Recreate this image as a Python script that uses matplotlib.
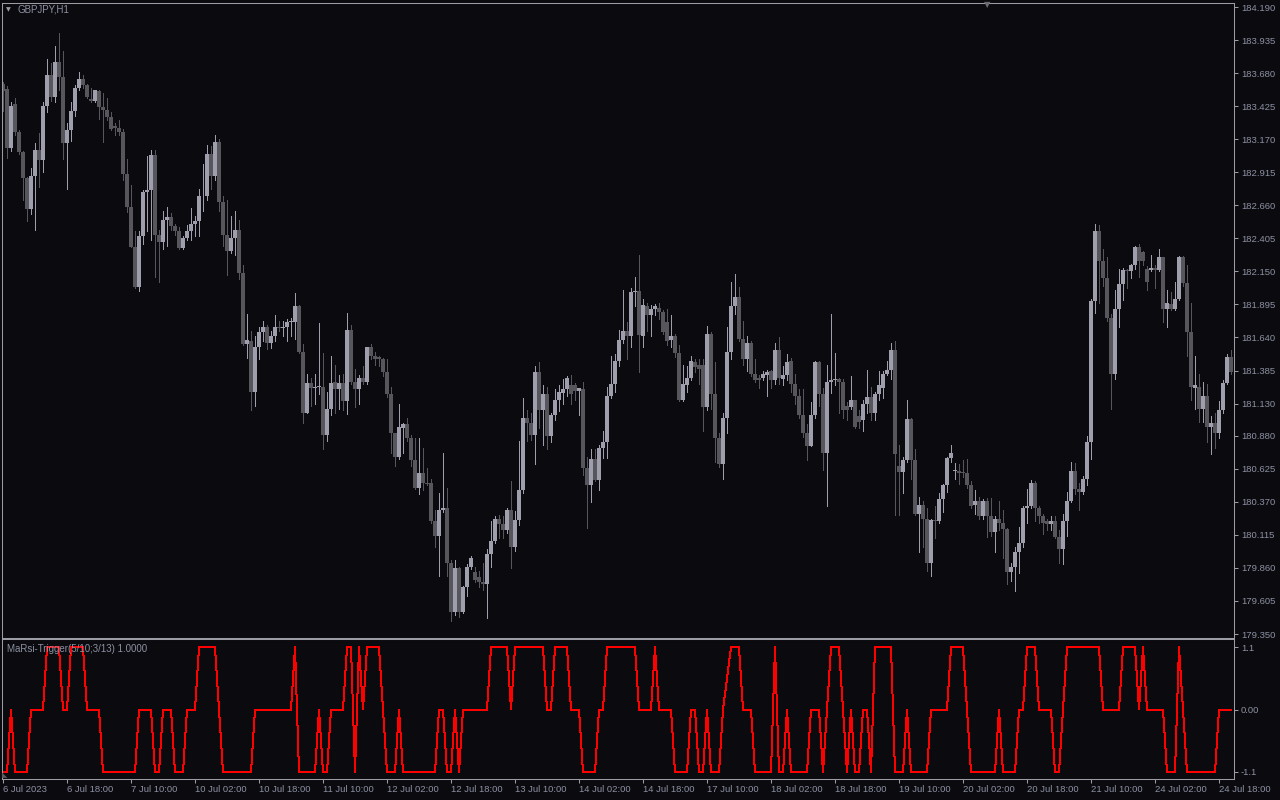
import numpy as np
import matplotlib
matplotlib.use("Agg")
import matplotlib.pyplot as plt

# GBPJPY H1 candles, bar 0 = 6 Jul 2023 02:00
opens = [
    183.60, 183.56, 183.10, 183.44, 183.23, 183.07, 182.87, 182.63, 182.89, 183.09,
    183.01, 183.43, 183.67, 183.50, 183.77, 183.65, 183.14, 183.24, 183.39, 183.57,
    183.64, 183.59, 183.48, 183.47, 183.54, 183.42, 183.40, 183.34, 183.27, 183.26,
    183.23, 182.90, 182.65, 182.34, 182.03, 182.42, 182.76, 182.78, 183.05, 182.43,
    182.38, 182.55, 182.57, 182.50, 182.46, 182.33, 182.41, 182.46, 182.52, 182.54,
    182.73, 182.73, 183.06, 182.89, 183.15, 182.69, 182.43, 182.31, 182.41, 182.47,
    182.14, 181.59, 181.61, 181.22, 181.57, 181.68, 181.72, 181.60, 181.65, 181.72,
    181.71, 181.72, 181.76, 181.76, 181.88, 181.53, 181.06, 181.29, 181.25, 181.26,
    181.26, 180.89, 181.09, 181.30, 181.24, 181.29, 181.15, 181.70, 181.30, 181.24,
    181.33, 181.30, 181.57, 181.50, 181.49, 181.47, 181.37, 181.20, 180.90, 180.72,
    180.94, 180.97, 180.86, 180.69, 180.48, 180.59, 180.52, 180.52, 180.22, 180.11,
    180.31, 180.32, 179.90, 179.52, 179.86, 179.52, 179.71, 179.87, 179.83, 179.79,
    179.75, 179.74, 179.97, 180.07, 180.24, 180.20, 180.15, 180.31, 180.02, 180.23,
    180.46, 181.02, 180.98, 180.89, 181.37, 181.08, 181.20, 180.88, 181.04, 181.16,
    181.21, 181.24, 181.27, 181.27, 181.23, 181.24, 180.63, 180.50, 180.70, 180.54,
    180.79, 180.83, 181.19, 181.28, 181.46, 181.62, 181.69, 181.65, 181.99, 182.00,
    181.65, 181.88, 181.81, 181.86, 181.87, 181.84, 181.76, 181.62, 181.65, 181.52,
    181.16, 181.27, 181.33, 181.45, 181.43, 181.43, 181.10, 181.67, 181.20, 180.86,
    180.66, 181.02, 181.53, 181.88, 181.95, 181.63, 181.47, 181.60, 181.36, 181.33,
    181.33, 181.35, 181.38, 181.31, 181.54, 181.32, 181.35, 181.46, 181.28, 181.19,
    181.04, 180.90, 180.80, 181.04, 181.45, 181.20, 180.75, 181.30, 181.31, 181.32,
    181.30, 181.11, 181.10, 181.16, 181.03, 181.00, 181.13, 181.18, 181.06, 181.20,
    181.25, 181.36, 181.39, 181.54, 180.65, 180.60, 180.69, 181.01, 180.69, 180.28,
    180.35, 180.24, 179.90, 180.23, 180.22, 180.39, 180.50, 180.71, 180.61, 180.61,
    180.60, 180.59, 180.50, 180.35, 180.38, 180.26, 180.38, 180.26, 180.14, 180.24,
    180.21, 180.16, 179.83, 179.87, 179.98, 180.05, 180.32, 180.34, 180.52, 180.32,
    180.26, 180.22, 180.20, 180.22, 180.10, 180.01, 180.22, 180.38, 180.61, 180.47,
    180.45, 180.55, 180.83, 181.92, 182.46, 182.23, 182.10, 181.79, 181.36, 181.86,
    182.05, 182.16, 182.15, 182.20, 182.34, 182.30, 182.17, 182.16, 182.18, 182.16,
    182.26, 181.86, 181.90, 181.86, 181.94, 182.26, 182.06, 181.68, 181.25, 181.26,
    181.09, 181.19, 180.95, 180.98, 180.90, 181.08, 181.29, 181.49,
]
highs = [
    183.61, 183.58, 183.46, 183.49, 183.24, 183.08, 182.88, 182.95, 183.14, 183.22,
    183.46, 183.79, 183.76, 183.89, 183.99, 183.85, 183.30, 183.46, 183.59, 183.69,
    183.67, 183.60, 183.57, 183.55, 183.55, 183.53, 183.49, 183.38, 183.30, 183.32,
    183.25, 183.02, 182.82, 182.46, 182.46, 182.78, 183.04, 183.09, 183.09, 182.47,
    182.62, 182.65, 182.60, 182.52, 182.49, 182.42, 182.51, 182.64, 182.58, 182.79,
    182.98, 183.13, 183.12, 183.20, 183.17, 182.73, 182.70, 182.58, 182.62, 182.55,
    182.20, 181.82, 181.69, 181.65, 181.72, 181.77, 181.74, 181.69, 181.81, 181.77,
    181.77, 181.78, 181.79, 181.98, 181.89, 181.59, 181.36, 181.33, 181.36, 181.75,
    181.52, 181.22, 181.50, 181.43, 181.35, 181.36, 181.83, 181.74, 181.40, 181.35,
    181.42, 181.57, 181.59, 181.53, 181.50, 181.48, 181.47, 181.26, 180.90, 181.13,
    180.98, 181.02, 180.89, 180.86, 180.86, 180.79, 180.63, 180.55, 180.31, 180.44,
    180.75, 180.48, 179.92, 179.92, 179.87, 179.72, 179.89, 179.95, 179.87, 179.84,
    179.90, 180.01, 180.22, 180.26, 180.27, 180.26, 180.32, 180.53, 180.30, 180.84,
    181.17, 181.08, 181.06, 181.42, 181.45, 181.27, 181.26, 181.06, 181.24, 181.27,
    181.32, 181.34, 181.35, 181.29, 181.25, 181.30, 180.72, 180.78, 180.78, 180.81,
    180.92, 181.26, 181.50, 181.51, 181.70, 182.01, 181.76, 182.02, 182.11, 182.28,
    181.94, 181.91, 181.89, 181.90, 181.91, 181.85, 181.86, 181.81, 181.67, 181.58,
    181.43, 181.42, 181.50, 181.47, 181.47, 181.47, 181.73, 181.68, 181.45, 180.90,
    181.06, 181.72, 182.07, 182.13, 182.03, 181.77, 181.65, 181.61, 181.47, 181.35,
    181.38, 181.39, 181.39, 181.60, 181.64, 181.42, 181.51, 181.48, 181.36, 181.24,
    181.24, 180.97, 181.14, 181.46, 181.46, 181.25, 181.43, 181.82, 181.52, 181.33,
    181.32, 181.14, 181.34, 181.16, 181.08, 181.16, 181.39, 181.26, 181.22, 181.38,
    181.38, 181.46, 181.60, 181.61, 180.81, 180.72, 181.16, 181.02, 180.78, 180.41,
    180.38, 180.32, 180.24, 180.34, 180.44, 180.51, 180.72, 180.81, 180.67, 180.66,
    180.69, 180.70, 180.53, 180.46, 180.41, 180.39, 180.40, 180.40, 180.26, 180.38,
    180.31, 180.17, 179.90, 180.02, 180.18, 180.34, 180.47, 180.54, 180.53, 180.34,
    180.28, 180.24, 180.26, 180.26, 180.15, 180.28, 180.45, 180.68, 180.67, 180.52,
    180.57, 180.88, 181.94, 182.52, 182.51, 182.32, 182.26, 181.82, 182.01, 182.17,
    182.18, 182.17, 182.21, 182.35, 182.36, 182.31, 182.19, 182.28, 182.20, 182.32,
    182.26, 182.01, 181.99, 182.07, 182.27, 182.27, 182.20, 181.91, 181.50, 181.36,
    181.30, 181.28, 181.03, 181.06, 181.15, 181.31, 181.51, 181.54,
]
lows = [
    183.39, 183.03, 183.08, 183.20, 183.06, 182.70, 182.54, 182.59, 182.47, 182.80,
    182.92, 183.38, 183.47, 183.46, 183.55, 183.02, 182.79, 183.16, 183.35, 183.55,
    183.57, 183.49, 183.46, 183.46, 183.33, 183.15, 183.32, 183.24, 183.20, 183.20,
    182.86, 182.61, 182.34, 182.02, 182.00, 182.36, 182.46, 182.39, 182.11, 182.07,
    182.32, 182.35, 182.47, 182.43, 182.32, 182.32, 182.39, 182.39, 182.42, 182.42,
    182.62, 182.70, 182.79, 182.86, 182.62, 182.35, 182.12, 182.29, 182.28, 182.09,
    181.58, 181.48, 181.08, 181.11, 181.47, 181.61, 181.55, 181.56, 181.61, 181.69,
    181.65, 181.61, 181.65, 181.63, 181.52, 180.98, 181.06, 181.11, 181.13, 181.20,
    180.78, 180.84, 181.04, 181.06, 181.09, 181.08, 181.05, 181.28, 181.10, 181.13,
    181.28, 181.28, 181.47, 181.43, 181.42, 181.34, 181.18, 180.75, 180.65, 180.70,
    180.75, 180.84, 180.65, 180.47, 180.43, 180.46, 180.50, 180.21, 180.02, 179.80,
    180.29, 179.80, 179.45, 179.50, 179.48, 179.51, 179.64, 179.85, 179.75, 179.71,
    179.69, 179.47, 179.87, 180.05, 180.09, 180.09, 180.13, 179.86, 179.99, 180.19,
    180.44, 180.84, 180.85, 180.66, 180.94, 180.81, 180.78, 180.83, 181.00, 181.07,
    181.13, 181.19, 181.13, 181.16, 181.04, 180.58, 180.17, 180.37, 180.53, 180.46,
    180.71, 180.71, 181.17, 181.22, 181.42, 181.60, 181.47, 181.57, 181.88, 181.37,
    181.57, 181.69, 181.65, 181.81, 181.78, 181.67, 181.58, 181.57, 181.49, 181.15,
    181.15, 181.22, 181.31, 181.37, 181.28, 180.92, 181.08, 181.09, 180.68, 180.64,
    180.55, 180.90, 181.47, 181.82, 181.61, 181.43, 181.38, 181.34, 181.30, 181.25,
    181.31, 181.19, 181.25, 181.28, 181.28, 181.27, 181.31, 181.22, 181.13, 181.02,
    180.87, 180.69, 180.80, 181.02, 181.11, 180.62, 180.34, 181.21, 181.27, 181.06,
    181.02, 181.00, 181.09, 180.94, 180.94, 180.92, 181.06, 181.00, 181.00, 181.16,
    181.17, 181.35, 181.32, 180.27, 180.27, 180.44, 180.68, 180.55, 180.27, 179.98,
    180.02, 179.84, 179.80, 180.09, 180.21, 180.29, 180.45, 180.68, 180.55, 180.51,
    180.56, 180.48, 180.32, 180.28, 180.24, 180.24, 180.10, 180.11, 179.98, 180.15,
    179.94, 179.74, 179.76, 179.68, 179.82, 180.02, 180.21, 180.32, 180.22, 180.21,
    180.12, 180.15, 180.15, 180.09, 179.90, 179.89, 180.11, 180.37, 180.43, 180.31,
    180.43, 180.50, 180.70, 181.83, 181.91, 182.04, 181.77, 181.09, 181.32, 181.72,
    181.93, 182.02, 182.10, 182.17, 182.11, 182.20, 182.01, 182.15, 182.02, 182.15,
    181.76, 181.72, 181.85, 181.85, 181.93, 182.04, 181.50, 181.16, 181.09, 180.99,
    180.99, 180.83, 180.74, 180.79, 180.86, 181.06, 181.28, 181.36,
]
closes = [
    183.54, 183.10, 183.43, 183.23, 183.07, 182.87, 182.63, 182.89, 183.09, 183.01,
    183.43, 183.67, 183.50, 183.77, 183.65, 183.14, 183.24, 183.39, 183.57, 183.64,
    183.59, 183.50, 183.47, 183.55, 183.42, 183.40, 183.34, 183.25, 183.26, 183.23,
    182.90, 182.65, 182.34, 182.03, 182.42, 182.76, 182.78, 183.05, 182.43, 182.38,
    182.55, 182.57, 182.50, 182.46, 182.33, 182.41, 182.46, 182.52, 182.54, 182.73,
    182.73, 183.06, 182.89, 183.15, 182.69, 182.43, 182.31, 182.41, 182.47, 182.14,
    181.59, 181.62, 181.22, 181.57, 181.68, 181.72, 181.60, 181.65, 181.72, 181.71,
    181.72, 181.76, 181.76, 181.88, 181.53, 181.06, 181.29, 181.25, 181.26, 181.26,
    180.89, 181.09, 181.29, 181.24, 181.29, 181.15, 181.70, 181.30, 181.24, 181.33,
    181.30, 181.57, 181.50, 181.47, 181.47, 181.37, 181.20, 180.90, 180.72, 180.95,
    180.97, 180.86, 180.69, 180.48, 180.59, 180.52, 180.51, 180.22, 180.11, 180.31,
    180.32, 179.90, 179.52, 179.86, 179.52, 179.71, 179.87, 179.94, 179.77, 179.75,
    179.74, 179.97, 180.07, 180.24, 180.20, 180.15, 180.31, 180.02, 180.23, 180.46,
    181.02, 180.98, 180.89, 181.37, 181.08, 181.20, 180.88, 181.04, 181.16, 181.22,
    181.24, 181.33, 181.20, 181.23, 181.25, 180.63, 180.50, 180.70, 180.54, 180.79,
    180.83, 181.19, 181.28, 181.46, 181.62, 181.69, 181.65, 181.99, 182.00, 181.66,
    181.89, 181.81, 181.86, 181.88, 181.84, 181.68, 181.61, 181.65, 181.52, 181.16,
    181.28, 181.33, 181.46, 181.41, 181.40, 181.10, 181.67, 181.20, 180.86, 180.66,
    181.02, 181.53, 181.88, 181.95, 181.63, 181.47, 181.60, 181.36, 181.31, 181.31,
    181.36, 181.37, 181.31, 181.54, 181.33, 181.35, 181.45, 181.28, 181.19, 181.04,
    180.90, 180.80, 181.04, 181.45, 181.20, 180.75, 181.30, 181.31, 181.31, 181.30,
    181.08, 181.08, 181.16, 180.95, 180.99, 181.13, 181.18, 181.06, 181.20, 181.27,
    181.36, 181.39, 181.54, 180.74, 180.60, 180.69, 181.01, 180.69, 180.28, 180.35,
    180.24, 179.90, 180.23, 180.22, 180.39, 180.50, 180.71, 180.75, 180.61, 180.59,
    180.59, 180.50, 180.34, 180.38, 180.26, 180.38, 180.26, 180.14, 180.24, 180.21,
    180.16, 179.83, 179.87, 179.98, 180.05, 180.32, 180.34, 180.52, 180.32, 180.26,
    180.21, 180.20, 180.22, 180.10, 180.01, 180.22, 180.38, 180.61, 180.47, 180.45,
    180.55, 180.83, 181.92, 182.46, 182.23, 182.10, 181.79, 181.36, 181.86, 182.05,
    182.16, 182.15, 182.20, 182.34, 182.23, 182.23, 182.07, 182.18, 182.16, 182.26,
    181.86, 181.91, 181.86, 181.94, 182.26, 182.06, 181.68, 181.26, 181.27, 181.09,
    181.19, 180.95, 180.98, 180.90, 181.08, 181.29, 181.49, 181.37,
]

# MaRsi-Trigger state per bar
trigger = [
    -1, -1, 0, -1, -1, -1, -1, 0, 0, 0,
    0, 1, 1, 1, 1, 0, 0, 1, 1, 1,
    1, 0, 0, 0, 0, -1, -1, -1, -1, -1,
    -1, -1, -1, -1, 0, 0, 0, 0, -1, -1,
    0, 0, 0, -1, -1, -1, 0, 0, 0, 1,
    1, 1, 1, 1, 0, -1, -1, -1, -1, -1,
    -1, -1, -1, 0, 0, 0, 0, 0, 0, 0,
    0, 0, 0, 1, -1, -1, -1, -1, -1, 0,
    -1, -1, 0, 0, 0, 0, 1, 1, -1, 1,
    0, 1, 1, 1, 1, 0, -1, -1, -1, 0,
    -1, -1, -1, -1, -1, -1, -1, -1, -1, 0,
    0, -1, -1, 0, -1, 0, 0, 0, 0, 0,
    0, 0, 1, 1, 1, 1, 1, 0, 1, 1,
    1, 1, 1, 1, 1, 1, 0, 0, 1, 1,
    1, 1, 0, 0, 0, -1, -1, -1, -1, 0,
    0, 1, 1, 1, 1, 1, 1, 1, 1, 0,
    0, 0, 0, 1, 0, 0, 0, 0, -1, -1,
    -1, -1, 0, 0, -1, -1, 0, -1, -1, -1,
    0, 0.5, 1, 1, 1, 0, 0, 0, -1, -1,
    -1, -1, -1, 1, -1, -1, 0, -1, -1, -1,
    -1, -1, 0, 0, 0, -1, 0, 1, 1, 1,
    0, -1, 0, -1, -1, 0, 0, -1, 1, 1,
    1, 1, 1, -1, -1, -1, 0, -1, -1, -1,
    -1, -1, 0, 0, 0, 0, 0, 1, 1, 1,
    1, 0, -1, -1, -1, -1, -1, -1, -1, 0,
    -1, -1, -1, -1, 0, 0, 1, 1, 1, 0,
    0, 0, 0, -1, -1, 0, 1, 1, 1, 1,
    1, 1, 1, 1, 1, 0, 0, 0, 0, 0,
    1, 1, 1, 1, 0, 1, 0, 0, 0, 0,
    0, -1, -1, -1, 1, 0, -1, -1, -1, -1,
    -1, -1, -1, -1, 0, 0, 0, 0,
]
trigger_level = 1.1

price_ticks = [184.190, 183.935, 183.680, 183.425, 183.170, 182.915, 182.660,
               182.405, 182.150, 181.895, 181.640, 181.385, 181.130, 180.880,
               180.625, 180.370, 180.115, 179.860, 179.605, 179.350]
time_labels = ["6 Jul 2023", "6 Jul 18:00", "7 Jul 10:00", "10 Jul 02:00",
               "10 Jul 18:00", "11 Jul 10:00", "12 Jul 02:00", "12 Jul 18:00",
               "13 Jul 10:00", "14 Jul 02:00", "14 Jul 18:00", "17 Jul 10:00",
               "18 Jul 02:00", "18 Jul 18:00", "19 Jul 10:00", "20 Jul 02:00",
               "20 Jul 18:00", "21 Jul 10:00", "24 Jul 02:00", "24 Jul 18:00"]
time_step = 16  # bars between time labels

BG = "#0b0b0f"
FRAME = "#9c9ca4"
TXT = "#8c90a2"
BULL = "#9e9eac"
BEAR = "#56565c"

plt.rcParams["font.family"] = ["Liberation Sans", "DejaVu Sans"]

W, H = 1280, 800
fig = plt.figure(figsize=(W / 100, H / 100), dpi=100, facecolor=BG)


def px_rect(x0, y0, x1, y1):
    return [x0 / W, 1 - y1 / H, (x1 - x0) / W, (y1 - y0) / H]


ax = fig.add_axes(px_rect(2, 2.5, 1234, 637.5))
ax2 = fig.add_axes(px_rect(2, 639, 1234, 778.5), sharex=ax)

o = np.array(opens)
h = np.array(highs)
l = np.array(lows)
c = np.array(closes)
idx = np.arange(len(o))
up = c >= o
cols = np.where(up, BULL, BEAR)

ax.vlines(idx, l, h, colors=cols, linewidth=0.72, antialiased=False)
body_lo = np.minimum(o, c)
body_h = np.maximum(np.abs(c - o), 0.006)
ax.bar(idx, body_h, bottom=body_lo, width=0.78, color=cols,
       linewidth=0, antialiased=False)

# price scale: 184.190 at y=7.3px, 179.350 at y=634px
scale = (price_ticks[0] - price_ticks[-1]) / (634.0 - 7.3)
ax.set_ylim(price_ticks[-1] - 3.5 * scale, price_ticks[0] + 4.8 * scale)
ax.set_xlim(-0.25, len(o) - 0.25)

trig = np.array(trigger, dtype=float) * trigger_level
ax2.plot(idx, trig, color="#ff0000", linewidth=0.72, antialiased=False)
ax2.set_ylim(-1.218, 1.246)

for a in (ax, ax2):
    a.set_facecolor(BG)
    for s in a.spines.values():
        s.set_color(FRAME)
        s.set_linewidth(0.75)
    a.yaxis.tick_right()
    a.tick_params(axis="y", colors=FRAME, labelcolor=TXT, length=3,
                  width=0.75, pad=2, labelsize=6.8)
    a.tick_params(axis="x", colors=FRAME, labelcolor=TXT, length=3,
                  width=0.75, pad=2, labelsize=6.8)

ax.set_yticks(price_ticks)
ax.set_yticklabels([f"{v:.3f}" for v in price_ticks])
ax.tick_params(axis="x", bottom=False, labelbottom=False)

ax2.set_yticks([trigger_level, 0.0, -trigger_level])
ax2.set_yticklabels(["1.1", "0.00", "-1.1"])
ax2.set_xticks(np.arange(len(time_labels)) * time_step)
ax2.set_xticklabels(time_labels, ha="left")

fig.text(18 / W, 1 - 9.5 / H, "GBPJPY,H1", color=TXT, fontsize=7,
         va="center", ha="left")
fig.text(8.5 / W, 1 - 10 / H, "\u25bc", color=FRAME, fontsize=4.5,
         va="center", ha="center", family="DejaVu Sans")
fig.text(987 / W, 1 - 4.5 / H, "\u25bc", color="#6a6a72", fontsize=6,
         va="center", ha="center", family="DejaVu Sans")
fig.text(7 / W, 1 - 648.5 / H, "MaRsi-Trigger(5/10;3/13) 1.0000", color=TXT,
         fontsize=7, va="center", ha="left")
fig.text(5 / W, 1 - 775 / H, "\u25e3", color="#5a5a60", fontsize=5,
         va="center", ha="center", family="DejaVu Sans")

fig.savefig("out.png", dpi=100, facecolor=BG)
